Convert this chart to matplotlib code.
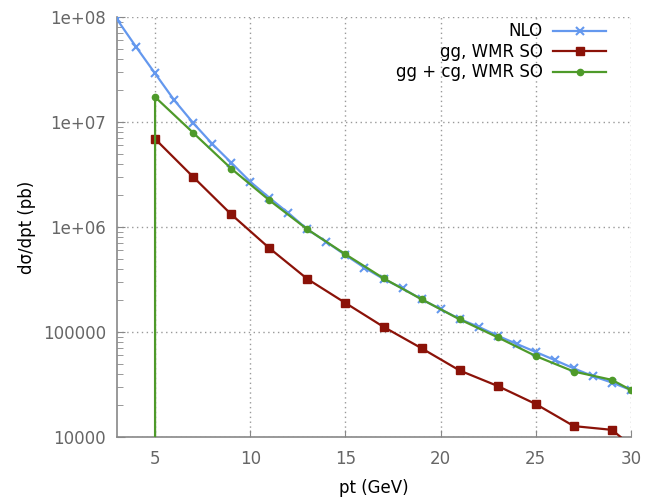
import matplotlib
matplotlib.use("Agg")
from matplotlib import pyplot as plt
from matplotlib.ticker import LogLocator, FixedLocator, FixedFormatter, NullFormatter

# NLO curve, every integer pt
nlo_pt = [3, 4, 5, 6, 7, 8, 9, 10, 11, 12, 13, 14, 15, 16, 17, 18, 19, 20,
          21, 22, 23, 24, 25, 26, 27, 28, 29, 30]
nlo_xs = [9.5e7, 5.2e7, 2.9e7, 1.62e7, 9.8e6, 6.2e6, 4.1e6, 2.7e6, 1.9e6,
          1.36e6, 9.5e5, 7.2e5, 5.4e5, 4.1e5, 3.2e5, 2.6e5, 2.05e5, 1.65e5,
          1.33e5, 1.12e5, 9.2e4, 7.7e4, 6.45e4, 5.4e4, 4.5e4, 3.8e4, 3.3e4,
          2.8e4]

# gg, WMR SO
gg_pt = [5, 7, 9, 11, 13, 15, 17, 19, 21, 23, 25, 27, 29, 30]
gg_xs = [6.9e6, 3.0e6, 1.32e6, 6.3e5, 3.2e5, 1.89e5, 1.12e5, 7.0e4, 4.3e4,
         3.06e4, 2.06e4, 1.27e4, 1.17e4, 8.3e3]

# gg + cg, WMR SO (starts from ~0 at pt = 5)
ggcg_pt = [5, 5, 7, 9, 11, 13, 15, 17, 19, 21, 23, 25, 27, 29, 30]
ggcg_xs = [1.0, 1.73e7, 7.9e6, 3.6e6, 1.8e6, 9.5e5, 5.5e5, 3.25e5, 2.05e5,
           1.32e5, 8.9e4, 5.9e4, 4.2e4, 3.5e4, 2.8e4]

ytick_vals = [1e4, 1e5, 1e6, 1e7, 1e8]
ytick_labels = ['10000', '100000', '1e+06', '1e+07', '1e+08']
xtick_vals = [5, 10, 15, 20, 25, 30]

fig = plt.figure(figsize=(6.67, 4.97), dpi=100)
ax = fig.add_axes([0.1754, 0.1207, 0.7706, 0.8451])

ax.plot(nlo_pt, nlo_xs, color='#6498ee', lw=1.6, marker='x', ms=6, mew=1.5,
        label='NLO', zorder=3)
ax.plot(gg_pt, gg_xs, color='#8b1208', lw=1.6, marker='s', ms=6,
        label='gg, WMR SO', zorder=3)
ax.plot(ggcg_pt, ggcg_xs, color='#4e9a2a', lw=1.6, marker='o', ms=4.5,
        label='gg + cg, WMR SO', zorder=4)

ax.set_yscale('log')
ax.set_xlim(3, 30)
ax.set_ylim(1e4, 1e8)

ax.yaxis.set_major_locator(FixedLocator(ytick_vals))
ax.yaxis.set_major_formatter(FixedFormatter(ytick_labels))
ax.yaxis.set_minor_locator(LogLocator(base=10, subs=range(2, 10)))
ax.yaxis.set_minor_formatter(NullFormatter())
ax.set_xticks(xtick_vals)

ax.grid(True, which='major', color='#999999', linestyle=(0, (1, 2.5)), lw=1)
ax.tick_params(which='both', direction='in', colors='#888888',
               labelcolor='#666666', labelsize=12)
ax.tick_params(axis='y', which='major', length=6, pad=8)
ax.tick_params(axis='y', which='minor', length=4)
ax.tick_params(axis='x', which='major', length=5, pad=9)

for s in ['top', 'right']:
    ax.spines[s].set_visible(False)
for s in ['left', 'bottom']:
    ax.spines[s].set_color('#888888')
    ax.spines[s].set_linewidth(1.2)

ax.set_xlabel('pt (GeV)', fontsize=12, labelpad=8)
ax.set_ylabel('dσ/dpt (pb)', fontsize=12, labelpad=5)

ax.legend(loc='upper right', frameon=False, markerfirst=False, fontsize=12,
          handlelength=3.2, handletextpad=0.6, borderaxespad=0.0,
          labelspacing=0.15, bbox_to_anchor=(0.965, 1.003))

plt.savefig('out.png', dpi=100)
